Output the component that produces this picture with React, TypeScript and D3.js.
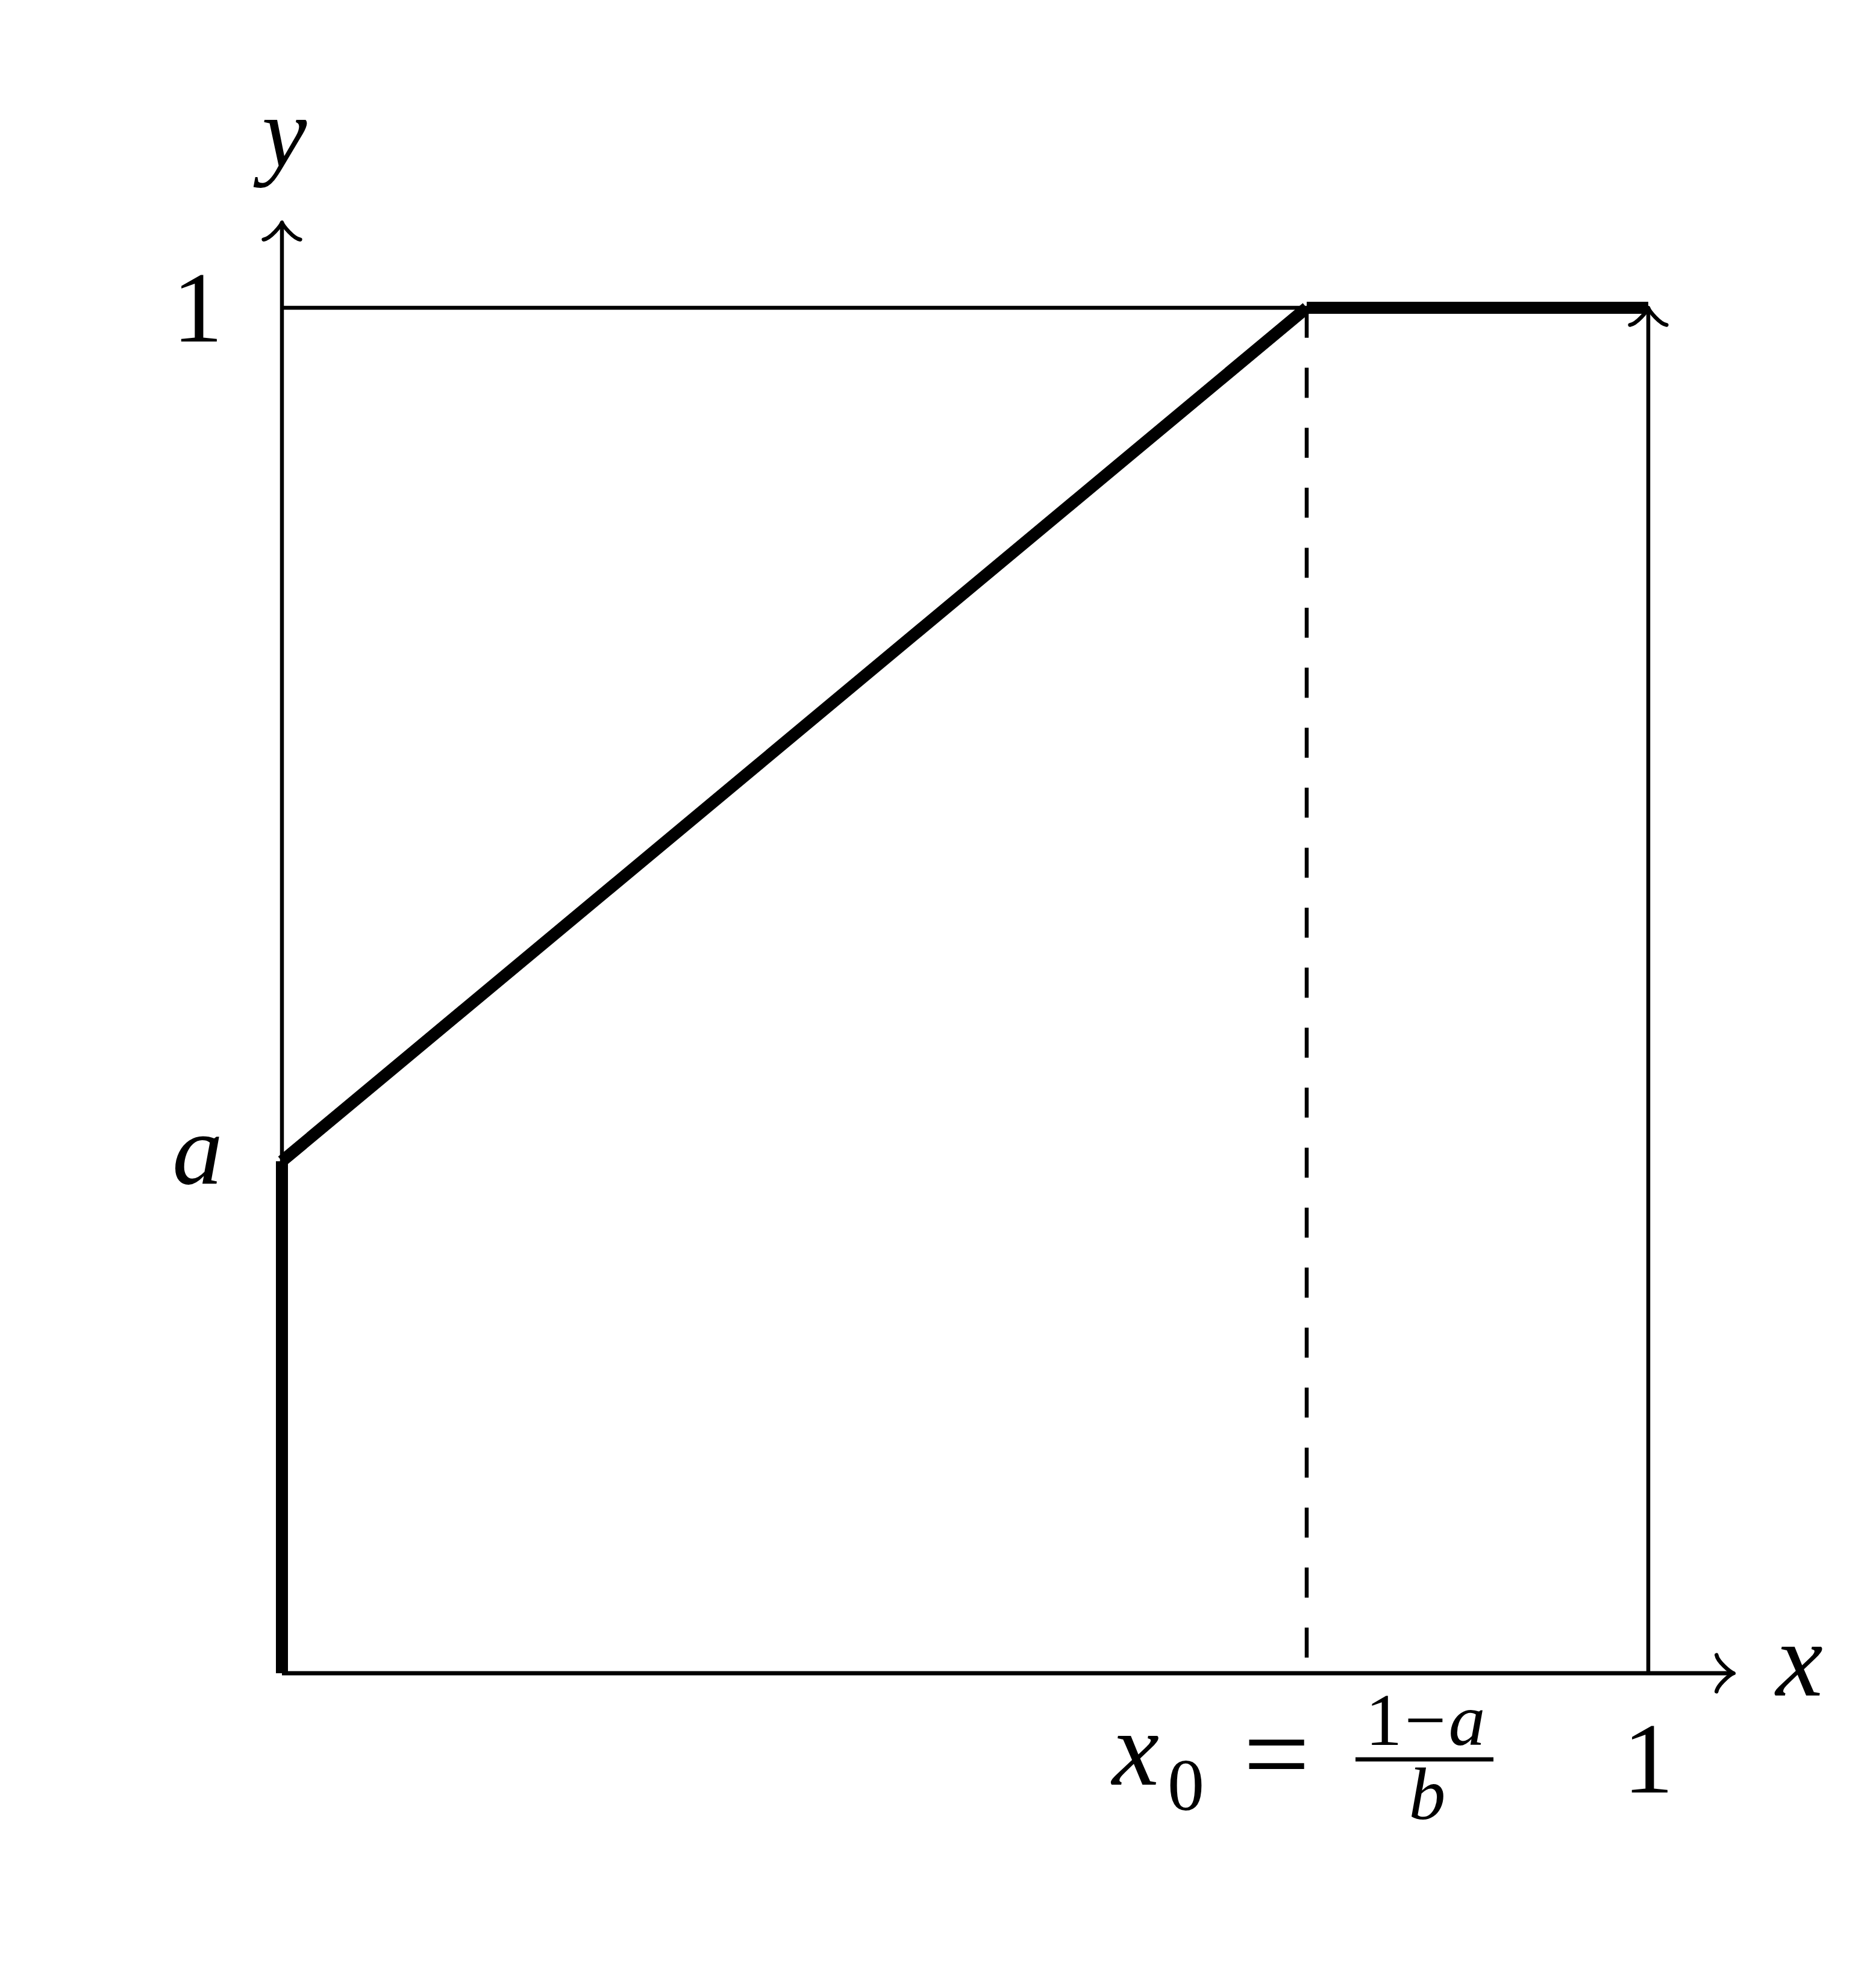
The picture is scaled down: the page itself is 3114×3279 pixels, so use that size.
import React from "react";
import * as d3 from "d3";

// ---- data ----
const pathX = [0, 0, 0.75, 1];
const pathY = [0, 0.375, 1, 1];
const aValue = 0.375;
const x0Value = 0.75;
const axisExtent = 1.0625;
const yTickValues = [1, aValue];
const yTickLabels = ["1", "a"];
const xOneTick = 1;

const W = 3114;
const H = 3279;
const FONT = "'Liberation Serif', 'Times New Roman', serif";
const FS = 168;
const FS_S = 122;

function arrowPath(d: number) {
  // pgf "to" tip, pointing along +x, tip at origin
  return `M ${-3.75 * d} ${4 * d} C ${-3.5 * d} ${2.5 * d} ${-0.75 * d} ${0.25 * d} 0 0 C ${-0.75 * d} ${-0.25 * d} ${-3.5 * d} ${-2.5 * d} ${-3.75 * d} ${-4 * d}`;
}

export default function App() {
  const x = d3.scaleLinear().domain([0, 1]).range([468, 2736]);
  const y = d3.scaleLinear().domain([0, 1]).range([2778, 511]);
  const line = d3.line<[number, number]>().x((p) => x(p[0])).y((p) => y(p[1]));
  const thin = 6.5;
  const thick = 20;
  const ah = arrowPath(7.6);

  const segments: [number, number][][] = [];
  for (let i = 0; i < pathX.length - 1; i++) {
    segments.push([
      [pathX[i], pathY[i]],
      [pathX[i + 1], pathY[i + 1]],
    ]);
  }

  const yTip = y(axisExtent);
  const xTip = x(axisExtent);

  return (
    <svg
      width={W}
      height={H}
      viewBox={`0 0 ${W} ${H}`}
      style={{ position: "absolute", left: 0, top: 0, background: "#fff" }}
    >
      <rect x={0} y={0} width={W} height={H} fill="#fff" />
      {/* y = 1 guide line */}
      <path d={line([[0, 1], [1, 1]]) || ""} stroke="#000" strokeWidth={thin} fill="none" />
      {/* dashed x0 line */}
      <path
        d={line([[x0Value, 1], [x0Value, 0]]) || ""}
        stroke="#000"
        strokeWidth={thin}
        strokeDasharray="49.8 49.8"
        fill="none"
      />
      {/* right vertical arrow at x=1 */}
      <path d={line([[1, 0], [1, 1]]) || ""} stroke="#000" strokeWidth={thin} fill="none" />
      <path
        d={ah}
        transform={`translate(${x(1)},${y(1)}) rotate(-90)`}
        stroke="#000"
        strokeWidth={thin}
        fill="none"
        strokeLinecap="round"
        strokeLinejoin="round"
      />
      {/* y axis */}
      <line x1={x(0)} y1={y(0)} x2={x(0)} y2={yTip + 3} stroke="#000" strokeWidth={thin} />
      <path
        d={ah}
        transform={`translate(${x(0)},${yTip}) rotate(-90)`}
        stroke="#000"
        strokeWidth={thin}
        fill="none"
        strokeLinecap="round"
        strokeLinejoin="round"
      />
      {/* x axis */}
      <line x1={x(0)} y1={y(0)} x2={xTip - 3} y2={y(0)} stroke="#000" strokeWidth={7} />
      <path
        d={ah}
        transform={`translate(${xTip},${y(0)})`}
        stroke="#000"
        strokeWidth={thin}
        fill="none"
        strokeLinecap="round"
        strokeLinejoin="round"
      />
      {/* thick function */}
      {segments.map((s, i) => (
        <path
          key={i}
          d={line(s) || ""}
          stroke="#000"
          strokeWidth={thick}
          fill="none"
          strokeLinecap="butt"
        />
      ))}
      {/* axis labels */}
      <text x={x(0) + 4} y={276} fontFamily={FONT} fontSize={FS} fontStyle="italic" textAnchor="middle">
        y
      </text>
      <text x={xTip + 70} y={y(0) + 37} fontFamily={FONT} fontSize={FS + 8} fontStyle="italic">
        x
      </text>
      {/* y tick labels */}
      {yTickValues.map((v, i) => (
        <text
          key={i}
          x={328}
          y={y(v) + (yTickLabels[i] === "1" ? 56 : 37)}
          fontFamily={FONT}
          fontSize={FS}
          fontStyle={yTickLabels[i] === "1" ? "normal" : "italic"}
          textAnchor="middle"
        >
          {yTickLabels[i]}
        </text>
      ))}
      {/* x tick label 1 */}
      <text x={x(xOneTick)} y={2976} fontFamily={FONT} fontSize={FS} textAnchor="middle">
        1
      </text>
      {/* x0 = (1-a)/b */}
      <g fontFamily={FONT}>
        <text x={1846} y={2963} fontSize={FS + 8} fontStyle="italic">
          x
        </text>
        <text x={1938} y={3005} fontSize={FS_S}>
          0
        </text>
        <text x={2119} y={2977} fontSize={196} textAnchor="middle">
          =
        </text>
        <line x1={2250} y1={2921} x2={2479} y2={2921} stroke="#000" strokeWidth={7} />
        <text x={2366} y={2897} fontSize={FS_S} textAnchor="middle">
          <tspan>1</tspan>
          <tspan dx={4}>−</tspan>
          <tspan dx={4} fontStyle="italic">a</tspan>
        </text>
        <text x={2369} y={3020} fontSize={FS_S} fontStyle="italic" textAnchor="middle">
          b
        </text>
      </g>
    </svg>
  );
}
